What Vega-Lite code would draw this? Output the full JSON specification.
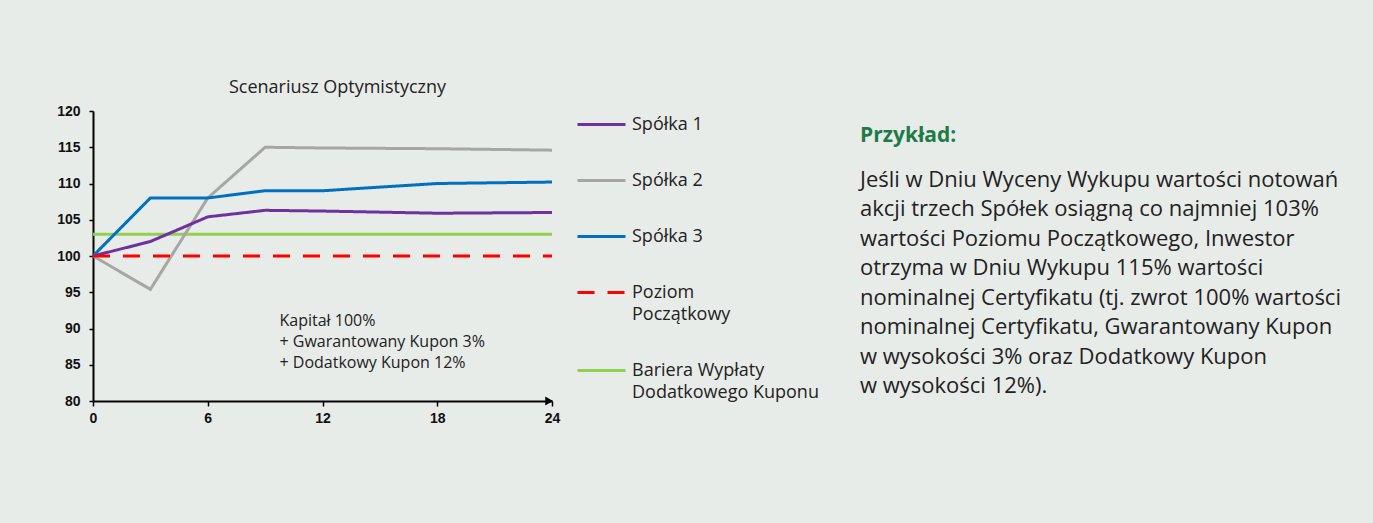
{
  "$schema": "https://vega.github.io/schema/vega-lite/v6.json",
  "background": "#e8ece9",
  "padding": {"left": 56, "top": 79, "right": 23, "bottom": 98},
  "bounds": "flush",
  "spacing": 308,
  "config": {
    "view": {"stroke": null},
    "font": "Open Sans",
    "style": {"guide-label": {"lineHeight": 22}},
    "axis": {
      "domainColor": "#000000",
      "domainWidth": 2,
      "tickColor": "#000000",
      "tickWidth": 1.5,
      "labelFont": "Liberation Sans",
      "labelFontWeight": "bold",
      "labelFontSize": 14,
      "labelColor": "#111111",
      "labelOverlap": false,
      "labelFlush": false,
      "grid": false,
      "title": null
    }
  },
  "hconcat": [
    {
      "width": 459,
      "height": 290,
      "title": {
        "text": "Scenariusz Optymistyczny",
        "font": "Open Sans",
        "fontSize": 18,
        "fontWeight": "normal",
        "color": "#222222",
        "anchor": "middle",
        "frame": "group",
        "baseline": "alphabetic",
        "dx": 15,
        "offset": -7
      },
      "encoding": {
        "x": {
          "field": "m", "type": "quantitative",
          "scale": {"domain": [0, 24], "nice": false},
          "axis": {"values": [0, 6, 12, 18, 24], "tickSize": 5, "labelPadding": 5, "labelOverlap": false, "labelFlush": false}
        },
        "y": {
          "field": "v", "type": "quantitative",
          "scale": {"domain": [80, 120], "nice": false, "zero": false},
          "axis": {"values": [80, 85, 90, 95, 100, 105, 110, 115, 120], "tickSize": 4, "labelPadding": 9, "labelOverlap": false, "labelFlush": false, "tickCount": 9}
        }
      },
      "layer": [
        {
          "data": {
            "values": [
              {"m": 0, "v": 103, "s": "Bariera Wypłaty Dodatkowego Kuponu"},
              {"m": 24, "v": 103, "s": "Bariera Wypłaty Dodatkowego Kuponu"},
              {"m": 0, "v": 100, "s": "Spółka 2"},
              {"m": 3, "v": 95.4, "s": "Spółka 2"},
              {"m": 6, "v": 108, "s": "Spółka 2"},
              {"m": 9, "v": 115, "s": "Spółka 2"},
              {"m": 12, "v": 114.9, "s": "Spółka 2"},
              {"m": 18, "v": 114.8, "s": "Spółka 2"},
              {"m": 24, "v": 114.6, "s": "Spółka 2"},
              {"m": 0, "v": 100, "s": "Spółka 1"},
              {"m": 3, "v": 102, "s": "Spółka 1"},
              {"m": 6, "v": 105.4, "s": "Spółka 1"},
              {"m": 9, "v": 106.3, "s": "Spółka 1"},
              {"m": 12, "v": 106.2, "s": "Spółka 1"},
              {"m": 18, "v": 105.9, "s": "Spółka 1"},
              {"m": 24, "v": 106.0, "s": "Spółka 1"},
              {"m": 0, "v": 100, "s": "Spółka 3"},
              {"m": 3, "v": 108, "s": "Spółka 3"},
              {"m": 6, "v": 108, "s": "Spółka 3"},
              {"m": 9, "v": 109, "s": "Spółka 3"},
              {"m": 12, "v": 109, "s": "Spółka 3"},
              {"m": 18, "v": 110, "s": "Spółka 3"},
              {"m": 24, "v": 110.2, "s": "Spółka 3"},
              {"m": 0, "v": 100, "s": "Poziom Początkowy"},
              {"m": 24, "v": 100, "s": "Poziom Początkowy"}
            ]
          },
          "mark": {"type": "line", "strokeWidth": 3},
          "encoding": {
            "color": {
              "field": "s", "type": "nominal",
              "scale": {
                "domain": ["Spółka 1", "Spółka 2", "Spółka 3", "Poziom Początkowy", "Bariera Wypłaty Dodatkowego Kuponu"],
                "range": ["#7030a0", "#a6a6a6", "#0070c0", "#ff0000", "#92d050"]
              },
              "legend": {
                "orient": "none",
                "legendX": 483,
                "legendY": -12,
                "title": null,
                "padding": 0,
                "symbolType": "stroke",
                "symbolSize": 2304,
                "symbolStrokeWidth": 3,
                "labelFont": "Open Sans",
                "labelFontSize": 18,
                "labelColor": "#222222",
                "labelOffset": 5,
                "labelLimit": 300,
                "rowPadding": 21,
                "labelExpr": "datum.label == 'Poziom Początkowy' ? ['Poziom', 'Początkowy'] : datum.label == 'Bariera Wypłaty Dodatkowego Kuponu' ? ['Bariera Wypłaty', 'Dodatkowego Kuponu'] : datum.label"
              }
            },
            "strokeDash": {
              "field": "s", "type": "nominal",
              "scale": {
                "domain": ["Spółka 1", "Spółka 2", "Spółka 3", "Poziom Początkowy", "Bariera Wypłaty Dodatkowego Kuponu"],
                "range": [[1, 0], [1, 0], [1, 0], [17, 13], [1, 0]]
              },
              "legend": null
            }
          }
        },
        {
          "data": {"values": [{"m": 23.85, "v": 80}]},
          "mark": {"type": "point", "shape": "triangle-right", "filled": true, "color": "#000000", "opacity": 1, "size": 80}
        },
        {
          "data": {"values": [{"m": 9.75, "v": 90.35, "t": ["Kapitał 100%", "+ Gwarantowany Kupon 3%", "+ Dodatkowy Kupon 12%"]}]},
          "mark": {"type": "text", "align": "left", "baseline": "alphabetic", "font": "Open Sans", "fontSize": 16, "lineHeight": 20.8, "color": "#222222"},
          "encoding": {
            "text": {"field": "t", "type": "nominal"}
          }
        }
      ]
    },
    {
      "width": 490,
      "height": 290,
      "title": {
        "text": "Przykład:",
        "font": "Open Sans",
        "fontSize": 21,
        "fontWeight": "bold",
        "color": "#1e7b48",
        "anchor": "start",
        "frame": "group",
        "baseline": "alphabetic",
        "offset": 0,
        "dy": 52
      },
      "data": {
        "values": [
          {"line": 1, "t": "Jeśli w Dniu Wyceny Wykupu wartości notowań"},
          {"line": 2, "t": "akcji trzech Spółek osiągną co najmniej 103%"},
          {"line": 3, "t": "wartości Poziomu Początkowego, Inwestor"},
          {"line": 4, "t": "otrzyma w Dniu Wykupu 115% wartości"},
          {"line": 5, "t": "nominalnej Certyfikatu (tj. zwrot 100% wartości"},
          {"line": 6, "t": "nominalnej Certyfikatu, Gwarantowany Kupon"},
          {"line": 7, "t": "w wysokości 3% oraz Dodatkowy Kupon"},
          {"line": 8, "t": "w wysokości 12%)."}
        ]
      },
      "mark": {"type": "text", "align": "left", "baseline": "alphabetic", "font": "Open Sans", "fontSize": 22, "color": "#222222"},
      "encoding": {
        "x": {"datum": 0, "type": "quantitative", "scale": {"domain": [0, 1]}, "axis": null},
        "y": {"field": "line", "type": "quantitative", "scale": {"domain": [-1.582, 8.272], "reverse": true, "nice": false, "zero": false}, "axis": null},
        "text": {"field": "t", "type": "nominal"}
      }
    }
  ]
}
